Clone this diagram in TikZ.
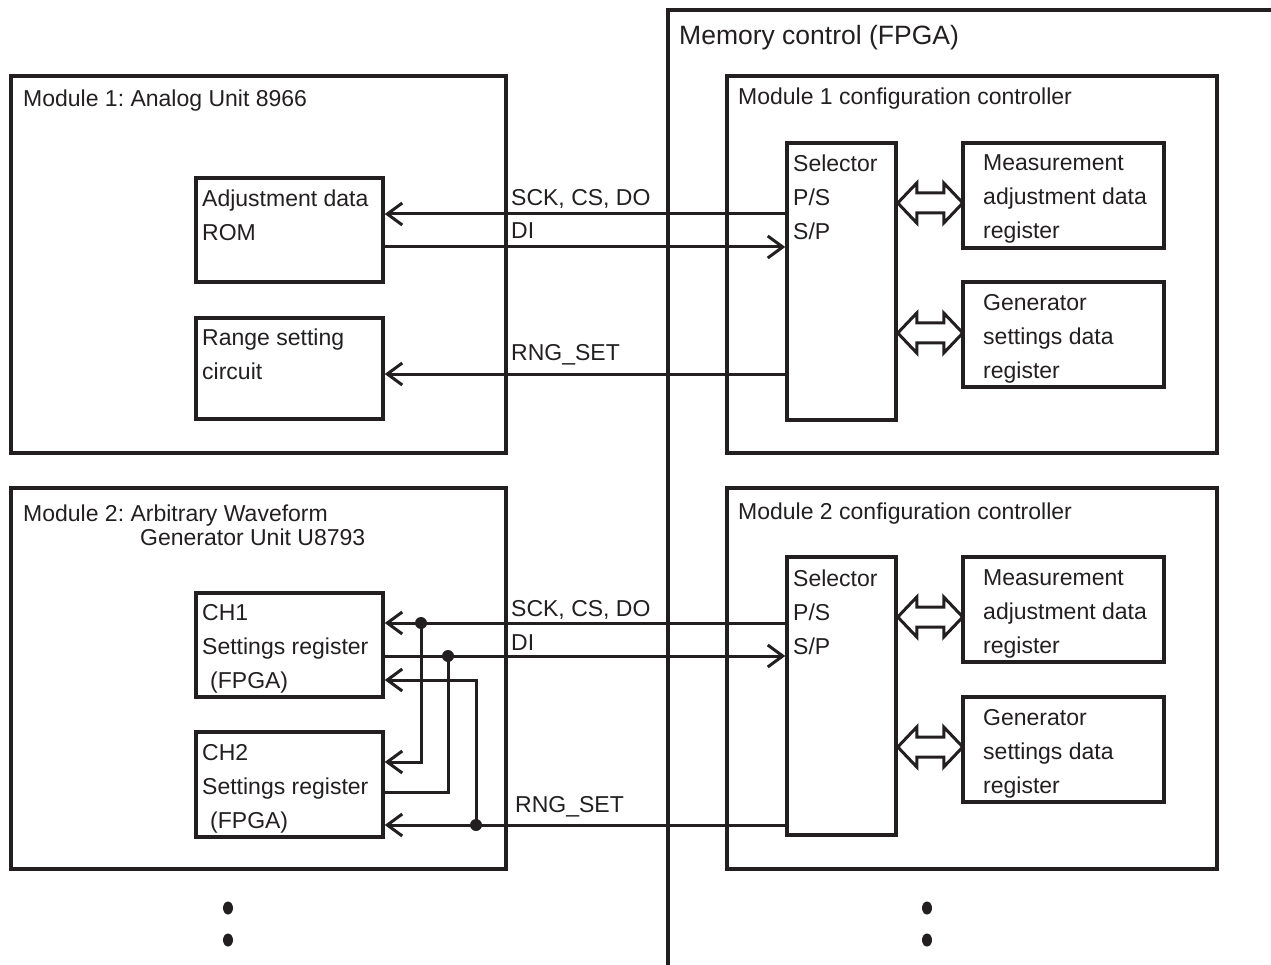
\documentclass[tikz,border=0pt]{standalone}
\usepackage{fontspec}
\setmainfont{Liberation Sans}
\usetikzlibrary{arrows.meta, shapes.geometric, positioning}
\definecolor{ink}{HTML}{231F20}
\frenchspacing

\begin{document}
\begin{tikzpicture}[x=1pt, y=-1pt,
    every node/.style={font=\fontsize{23}{34}\selectfont, text=ink},
    box/.style={draw=ink, line width=3.5pt, rectangle, inner sep=0pt},
    txt/.style={anchor=base west, inner sep=0pt, align=left},
    sig/.style={draw=ink, line width=3pt, -{Straight Barb[length=15pt,width=22pt]}},
    wire/.style={draw=ink, line width=3pt},
    dot/.style={circle, fill=ink, inner sep=0pt, minimum size=12pt},
    vdot/.style={ellipse, fill=ink, inner sep=0pt, minimum width=10pt, minimum height=13pt},
    bidir/.style={draw=ink, line width=3pt, line join=miter, fill=white}
]
    \useasboundingbox (0,0) rectangle (1271,965);

    % Memory control frame
    \coordinate (memtl) at (668,10);
    \draw[wire, line width=3.5pt] (1280,10) -- (memtl) -- (668,975);
    \node[txt, font=\fontsize{26.5}{30}\selectfont] (memlbl) at (679,45) {Memory control (FPGA)};

    % Module boxes
    \node[box, minimum width=495, minimum height=377] (mod1) at (258.5,264.5) {};
    \node[box, minimum width=495, minimum height=381] (mod2) at (258.5,678.5) {};
    \node[box, minimum width=490, minimum height=377] (cfg1) at (972,264.5) {};
    \node[box, minimum width=490, minimum height=381] (cfg2) at (972,678.5) {};

    % (multi-line texts are placed at the baseline of their last line)
    \node[txt] (mod1lbl) at (23,107) {Module 1: Analog Unit 8966};
    \node[txt, font=\fontsize{23}{24}\selectfont] (mod2lbl) at (23,545)
        {Module 2: Arbitrary Waveform\\\hspace*{117pt}Generator Unit U8793};
    \node[txt] (cfg1lbl) at (738,105) {Module 1 configuration controller};
    \node[txt] (cfg2lbl) at (738,519) {Module 2 configuration controller};

    % Module 1 internals
    \node[box, minimum width=187, minimum height=104] (rom) at (289.5,230) {};
    \node[box, minimum width=187, minimum height=101] (rng) at (289.5,368.5) {};
    \node[txt] (romlbl) at (202,241) {Adjustment data\\ROM};
    \node[txt] (rnglbl) at (202,379) {Range setting\\circuit};

    % Module 2 internals
    \node[box, minimum width=187, minimum height=104] (ch1) at (289.5,645) {};
    \node[box, minimum width=187, minimum height=105] (ch2) at (289.5,784.5) {};
    \node[txt] (ch1lbl) at (202,688) {CH1\\Settings register\\\hspace*{8pt}(FPGA)};
    \node[txt] (ch2lbl) at (202,828) {CH2\\Settings register\\\hspace*{8pt}(FPGA)};

    % Controller internals
    \node[box, minimum width=109, minimum height=277] (sel1) at (841.5,281.5) {};
    \node[box, minimum width=109, minimum height=278] (sel2) at (841.5,696) {};
    \node[box, minimum width=201, minimum height=105] (meas1) at (1063.5,195.5) {};
    \node[box, minimum width=201, minimum height=105] (gen1) at (1063.5,334.5) {};
    \node[box, minimum width=201, minimum height=105] (meas2) at (1063.5,609.5) {};
    \node[box, minimum width=201, minimum height=105] (gen2) at (1063.5,749.5) {};

    \node[txt] (sel1lbl) at (793,240) {Selector\\P/S\\S/P};
    \node[txt] (sel2lbl) at (793,654) {Selector\\P/S\\S/P};
    \node[txt] (meas1lbl) at (983,239) {Measurement\\adjustment data\\register};
    \node[txt] (gen1lbl) at (983,378) {Generator\\settings data\\register};
    \node[txt] (meas2lbl) at (983,653) {Measurement\\adjustment data\\register};
    \node[txt] (gen2lbl) at (983,793) {Generator\\settings data\\register};

    % Double arrows between selector and registers
    \draw[bidir] (sel1.east |- 0,203) -- ++(19,-20) -- ++(0,10) -- ++(27,0) -- ++(0,-10)
        -- ++(19,20) -- ++(-19,20) -- ++(0,-10) -- ++(-27,0) -- ++(0,10) -- cycle;
    \draw[bidir] (sel1.east |- 0,333) -- ++(19,-20) -- ++(0,10) -- ++(27,0) -- ++(0,-10)
        -- ++(19,20) -- ++(-19,20) -- ++(0,-10) -- ++(-27,0) -- ++(0,10) -- cycle;
    \draw[bidir] (sel2.east |- 0,617) -- ++(19,-20) -- ++(0,10) -- ++(27,0) -- ++(0,-10)
        -- ++(19,20) -- ++(-19,20) -- ++(0,-10) -- ++(-27,0) -- ++(0,10) -- cycle;
    \draw[bidir] (sel2.east |- 0,747) -- ++(19,-20) -- ++(0,10) -- ++(27,0) -- ++(0,-10)
        -- ++(19,20) -- ++(-19,20) -- ++(0,-10) -- ++(-27,0) -- ++(0,10) -- cycle;

    % Module 1 signals
    \draw[sig] (sel1.west |- 0,214) -- (rom.east |- 0,214);
    \draw[sig] (rom.east |- 0,247) -- (sel1.west |- 0,247);
    \draw[sig] (sel1.west |- 0,374) -- (rng.east |- 0,374);
    \node[txt] (sck1) at (511,206) {SCK, CS, DO};
    \node[txt] (di1) at (511,239) {DI};
    \node[txt] (rs1) at (511,360) {RNG\_SET};

    % Module 2 signals
    \node[dot] (j1) at (421,623) {};
    \node[dot] (j2) at (448,656) {};
    \node[dot] (j3) at (476,825) {};
    \draw[sig] (sel2.west |- 0,623) -- (ch1.east |- 0,623);
    \draw[sig] (j1.center) |- (ch2.east |- 0,762);
    \draw[sig] (ch1.east |- 0,656) -- (sel2.west |- 0,656);
    \draw[wire] (ch2.east |- 0,792) -| (j2.center);
    \draw[sig] (sel2.west |- 0,825) -- (ch2.east |- 0,825);
    \draw[sig] (j3.center) |- (ch1.east |- 0,680);
    \node[txt] (sck2) at (511,616) {SCK, CS, DO};
    \node[txt] (di2) at (511,650) {DI};
    \node[txt] (rs2) at (515,812) {RNG\_SET};

    % More modules below
    \node[vdot] (m1) at (228,908) {};
    \node[vdot] (m2) at (228,940) {};
    \node[vdot] (m3) at (927,908) {};
    \node[vdot] (m4) at (927,940) {};
\end{tikzpicture}
\end{document}
